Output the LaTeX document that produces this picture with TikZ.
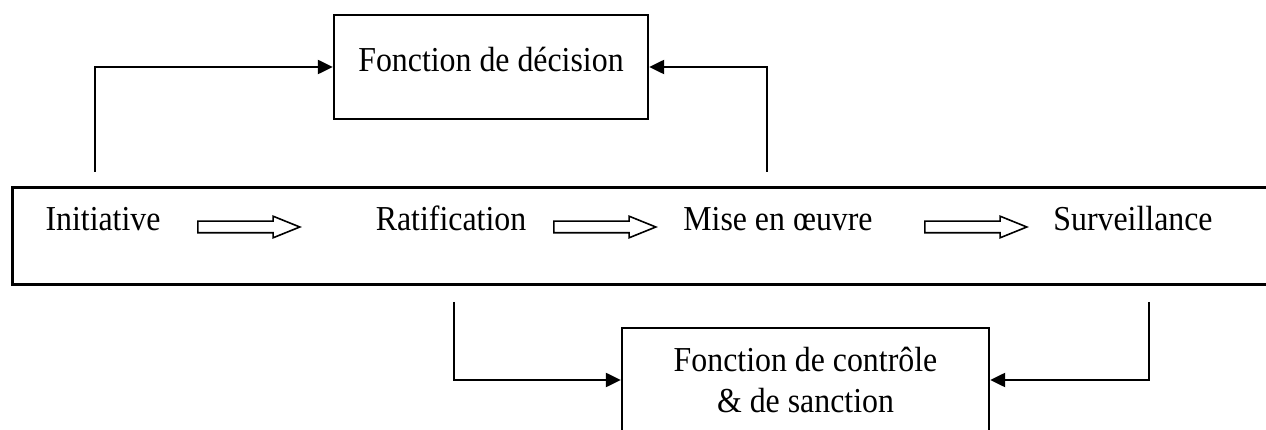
\documentclass[tikz,border=0pt]{standalone}
\usepackage{fontspec}
\setmainfont[FakeStretch=0.91]{Liberation Serif}
\usetikzlibrary{shapes.arrows, arrows.meta, positioning}

\begin{document}
\begin{tikzpicture}[x=1pt, y=-1pt,
    font=\fontsize{35}{41}\selectfont,
    box/.style={draw, line width=2.3pt, inner sep=0pt},
    link/.style={line width=2.2pt, -{Triangle[length=15pt,width=14pt]}},
    hollow/.style={single arrow, draw, line width=1.6pt, inner sep=0pt,
        text height=5pt, text depth=5pt, minimum height=102pt,
        single arrow head extend=5pt, single arrow tip angle=44, anchor=west}]
\useasboundingbox (0,0) rectangle (1266,430);
\node[box, line width=2.8pt, anchor=north west,
    minimum width=1300pt, minimum height=97pt] (row) at (11,186) {};
\node[anchor=base] (init) at (103,231) {Initiative};
\node[anchor=base] (rat) at (451,231) {Ratification};
\node[anchor=base] (mise) at (778,231) {Mise en œuvre};
\node[anchor=base] (surv) at (1133,231) {Surveillance};
\node[hollow] (h1) at (197,227) {};
\node[hollow] (h2) at (553,227) {};
\node[hollow] (h3) at (924,227) {};
\node[box, anchor=base, minimum width=314pt,
    text height=57pt, text depth=47pt] (dec) at (491,72)
    {Fonction de décision};
\node[box, align=center, minimum width=367pt, minimum height=104pt]
    (ctrl) at (805.5,380) {Fonction de contrôle\\ \& de sanction};
\coordinate (i1) at (95,172);
\coordinate (m1) at (767,172);
\coordinate (r1) at (454,302);
\coordinate (s1) at (1149,302);
\draw[link] (i1) |- (dec.west);
\draw[link] (m1) |- (dec.east);
\draw[link] (r1) |- (ctrl.west);
\draw[link] (s1) |- (ctrl.east);
\end{tikzpicture}
\end{document}
